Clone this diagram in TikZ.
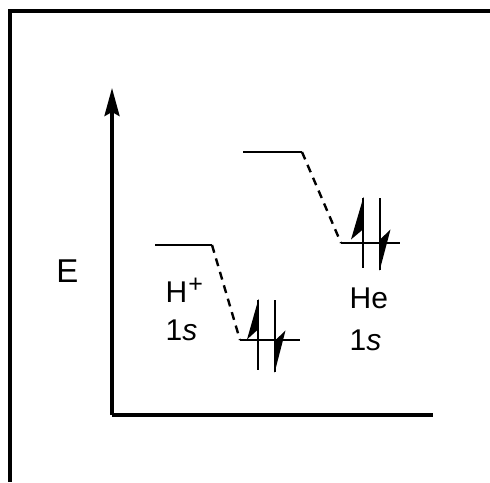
\documentclass[tikz,border=0pt]{standalone}
\usepackage{fontspec}
\setmainfont{Liberation Sans}
\usetikzlibrary{arrows.meta}
\begin{document}
\begin{tikzpicture}[x=1pt,y=-1pt,
  frameline/.style={line width=3.2pt},
  axisline/.style={line width=3.5pt},
  levelline/.style={line width=2.4pt},
  corrline/.style={line width=2.4pt,dash pattern=on 8pt off 6pt},
  eline/.style={line width=2.4pt},
  ehead/.style={fill=black,draw=none},
  lbl/.style={inner sep=0pt,anchor=base west,font=\fontsize{30}{36}\selectfont}]
\useasboundingbox (0,0) rectangle (490,482);
% frame
\coordinate (fTR) at (490,11);
\coordinate (fTL) at (10,11);
\coordinate (fBL) at (10,482);
\draw[frameline] (fTR) -- (fTL) -- (fBL);
% axes
\coordinate (origin) at (112,415);
\coordinate (ytop) at (112,88);
\coordinate (xend) at (433,415);
\draw[axisline,-{Stealth[length=28pt,width=15pt,inset=4pt]}] (origin) -- (ytop);
\draw[axisline] (origin) -- (xend);
\node[inner sep=0pt,font=\fontsize{33}{38}\selectfont] (E) at (67.5,271) {E};
% H+ level
\coordinate (h1) at (155,245);
\coordinate (h2) at (212,245);
\draw[levelline] (h1) -- (h2);
% lower level (left)
\coordinate (b1) at (240,340);
\coordinate (b2) at (300,340);
\draw[corrline] (h2) -- (b1);
\draw[levelline] (b1) -- (b2);
% electrons on left lower level
\coordinate (u1t) at (258,300);
\coordinate (u1b) at (258,370);
\draw[eline] (u1t) -- (u1b);
\fill[ehead] (258.5,299) -- (247,339.5) -- (258.5,329) -- cycle;
\coordinate (d1t) at (275,300);
\coordinate (d1b) at (275,372);
\draw[eline] (d1t) -- (d1b);
\fill[ehead] (274.5,373) -- (285.5,330.5) -- (274.5,341) -- cycle;
% He upper level
\coordinate (e1) at (243,152);
\coordinate (e2) at (302,152);
\draw[levelline] (e1) -- (e2);
\coordinate (g1) at (341,243);
\coordinate (g2) at (400,243);
\draw[corrline] (e2) -- (g1);
\draw[levelline] (g1) -- (g2);
% electrons on right lower level
\coordinate (u2t) at (363,198);
\coordinate (u2b) at (363,268);
\draw[eline] (u2t) -- (u2b);
\fill[ehead] (363.5,197) -- (351,239.5) -- (363.5,229) -- cycle;
\coordinate (d2t) at (380,198);
\coordinate (d2b) at (380,270);
\draw[eline] (d2t) -- (d2b);
\fill[ehead] (379.5,271) -- (390.5,229.5) -- (379.5,240) -- cycle;
% labels
\node[lbl] (hp) at (165.5,302) {H\kern 1pt\raisebox{10pt}{\fontsize{25}{27}\selectfont +}};
\node[lbl] (hs) at (165.5,340) {1\textit{s}};
\node[lbl] (he) at (349.5,308) {He};
\node[lbl] (hes) at (349.5,350) {1\textit{s}};
\end{tikzpicture}
\end{document}
